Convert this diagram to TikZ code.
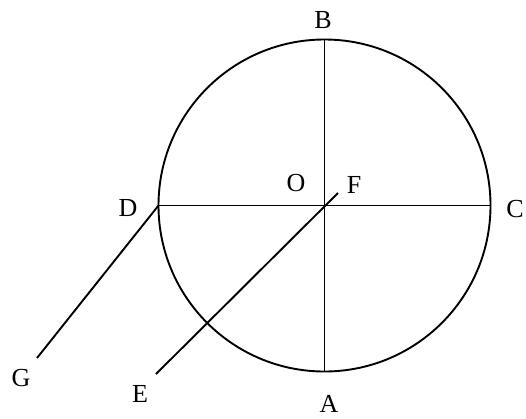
\documentclass[tikz,border=0pt]{standalone}
\usepackage{fontspec}
\setmainfont{Liberation Serif}
\begin{document}
\begin{tikzpicture}[x=1pt,y=-1pt,
  geo/.style={line width=1.9pt,black},
  lbl/.style={inner sep=0pt,font=\fontsize{26}{30}\selectfont}]
\useasboundingbox (0,0) rectangle (526,418);
\coordinate (O) at (324.5,205.5);
\coordinate (B) at (324.5,40);
\coordinate (A) at (324.5,371);
\coordinate (C) at (490.5,205.5);
\coordinate (D) at (158.5,205.5);
\coordinate (F) at (338,193);
\coordinate (E) at (156,374);
\coordinate (G) at (37,358);
\draw[geo] (O) circle[radius=166];
\draw[geo] (B) -- (A);
\draw[geo] (D) -- (C);
\draw[geo] (E) -- (F);
\draw[geo] (D) -- (G);
\node[lbl] (lB) at (323,20) {B};
\node[lbl] (lA) at (329,404) {A};
\node[lbl] (lC) at (515,209) {C};
\node[lbl] (lD) at (128,208) {D};
\node[lbl] (lO) at (296,183) {O};
\node[lbl] (lF) at (354,185) {F};
\node[lbl] (lG) at (21,378) {G};
\node[lbl] (lE) at (140,394) {E};
\end{tikzpicture}
\end{document}
